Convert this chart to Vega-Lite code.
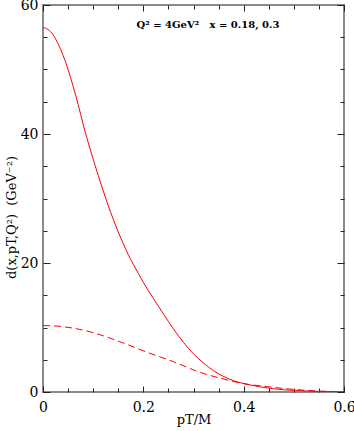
{
  "$schema": "https://vega.github.io/schema/vega-lite/v6.json",
  "width": 301,
  "height": 387,
  "autosize": {"type": "none"},
  "padding": {"left": 43, "top": 5, "right": 10, "bottom": 39},
  "background": "white",
  "config": {
    "view": {"stroke": "#8a8a8a", "strokeWidth": 2},
    "axis": {
      "domain": false,
      "grid": false,
      "tickColor": "#222222",
      "tickWidth": 1,
      "labelFont": "DejaVu Serif",
      "labelFontSize": 14,
      "labelColor": "#000000",
      "labelFlush": false,
      "labelOverlap": false,
      "labelBound": false,
      "titleFont": "DejaVu Serif",
      "titleFontSize": 13,
      "titleFontWeight": "normal",
      "titleColor": "#000000"
    }
  },
  "resolve": {"axis": {"x": "independent", "y": "independent"}},
  "layer": [
    {
      "data": {"values": [
        {"pt": 0.0, "d": 56.5}, {"pt": 0.01, "d": 56.2}, {"pt": 0.02, "d": 55.4},
        {"pt": 0.03, "d": 54.0}, {"pt": 0.04, "d": 52.2}, {"pt": 0.05, "d": 50.0},
        {"pt": 0.06, "d": 47.4}, {"pt": 0.07, "d": 44.6}, {"pt": 0.08, "d": 41.5},
        {"pt": 0.09, "d": 38.7}, {"pt": 0.1, "d": 36.1}, {"pt": 0.11, "d": 33.6},
        {"pt": 0.12, "d": 31.2}, {"pt": 0.13, "d": 28.9}, {"pt": 0.14, "d": 26.8},
        {"pt": 0.15, "d": 24.8}, {"pt": 0.16, "d": 23.0}, {"pt": 0.17, "d": 21.3},
        {"pt": 0.18, "d": 19.8}, {"pt": 0.19, "d": 18.4}, {"pt": 0.2, "d": 17.0},
        {"pt": 0.22, "d": 14.5}, {"pt": 0.24, "d": 12.1}, {"pt": 0.26, "d": 9.8},
        {"pt": 0.28, "d": 7.7}, {"pt": 0.3, "d": 5.9}, {"pt": 0.32, "d": 4.5},
        {"pt": 0.34, "d": 3.3}, {"pt": 0.36, "d": 2.4}, {"pt": 0.38, "d": 1.75},
        {"pt": 0.4, "d": 1.3}, {"pt": 0.43, "d": 0.85}, {"pt": 0.46, "d": 0.5},
        {"pt": 0.5, "d": 0.25}, {"pt": 0.55, "d": 0.08}, {"pt": 0.6, "d": 0.02}
      ]},
      "mark": {"type": "line", "color": "#ff0000", "strokeWidth": 1, "interpolate": "monotone", "clip": true},
      "encoding": {
        "x": {
          "field": "pt", "type": "quantitative",
          "scale": {"domain": [0, 0.6], "nice": false, "zero": false},
          "axis": {
            "orient": "bottom",
            "title": "pT/M",
            "values": [0, 0.05, 0.1, 0.15, 0.2, 0.25, 0.3, 0.35, 0.4, 0.45, 0.5, 0.55, 0.6],
            "format": "~g",
            "labelExpr": "abs(datum.value*5-round(datum.value*5))<1e-6 ? datum.label : ''",
            "tickSize": {"condition": {"test": "abs(datum.value*5-round(datum.value*5))<1e-6", "value": -6}, "value": -4},
            "labelPadding": 14,
            "titlePadding": -3
          }
        },
        "y": {
          "field": "d", "type": "quantitative",
          "scale": {"domain": [0, 60], "nice": false, "zero": false},
          "axis": {
            "orient": "left",
            "title": "d(x,pT,Q²)\u00a0\u00a0(GeV⁻²)",
            "values": [0, 5, 10, 15, 20, 25, 30, 35, 40, 45, 50, 55, 60],
            "labelExpr": "datum.value % 20 == 0 ? datum.label : ''",
            "tickSize": {"condition": {"test": "datum.value % 20 == 0", "value": -7}, "value": -4},
            "labelPadding": 12,
            "titleAngle": 270,
            "titleX": -32,
            "titleY": 212,
            "titleAlign": "center",
            "titleBaseline": "middle"
          }
        }
      }
    },
    {
      "data": {"values": [
        {"pt": 0.0, "d": 10.3}, {"pt": 0.03, "d": 10.2}, {"pt": 0.06, "d": 9.9},
        {"pt": 0.1, "d": 9.2}, {"pt": 0.153, "d": 7.8}, {"pt": 0.213, "d": 6.0},
        {"pt": 0.26, "d": 4.7}, {"pt": 0.313, "d": 3.05}, {"pt": 0.353, "d": 2.15},
        {"pt": 0.393, "d": 1.4}, {"pt": 0.45, "d": 0.8}, {"pt": 0.5, "d": 0.4},
        {"pt": 0.55, "d": 0.15}, {"pt": 0.6, "d": 0.05}
      ]},
      "mark": {"type": "line", "color": "#ff0000", "strokeWidth": 1, "strokeDash": [7, 4], "interpolate": "monotone", "clip": true},
      "encoding": {
        "x": {
          "field": "pt", "type": "quantitative",
          "axis": {
            "orient": "top",
            "title": null,
            "labels": false,
            "values": [0, 0.05, 0.1, 0.15, 0.2, 0.25, 0.3, 0.35, 0.4, 0.45, 0.5, 0.55, 0.6],
            "tickSize": {"condition": {"test": "abs(datum.value*5-round(datum.value*5))<1e-6", "value": -6}, "value": -4}
          }
        },
        "y": {
          "field": "d", "type": "quantitative",
          "axis": {
            "orient": "right",
            "title": null,
            "labels": false,
            "values": [0, 5, 10, 15, 20, 25, 30, 35, 40, 45, 50, 55, 60],
            "tickSize": {"condition": {"test": "datum.value % 20 == 0", "value": -7}, "value": -4}
          }
        }
      }
    },
    {
      "data": {"values": [{"label": "Q² = 4GeV²\u00a0\u00a0\u00a0x = 0.18, 0.3", "px": 0.329, "py": 56.9}]},
      "mark": {"type": "text", "font": "DejaVu Serif", "fontSize": 10, "fontWeight": "bold", "align": "center", "baseline": "middle", "color": "#000000"},
      "encoding": {
        "x": {"field": "px", "type": "quantitative", "axis": null},
        "y": {"field": "py", "type": "quantitative", "axis": null},
        "text": {"field": "label"}
      }
    }
  ]
}
